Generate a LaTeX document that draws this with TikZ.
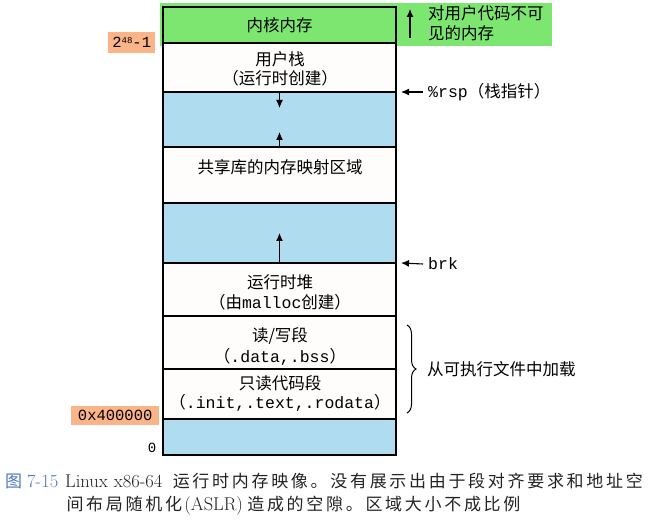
\documentclass[tikz,border=0pt]{standalone}
\usepackage{fontspec}
\newfontfamily\cjk{Noto Sans CJK SC}
\newfontfamily\code{Liberation Mono}
\usetikzlibrary{arrows.meta,decorations.pathreplacing}

\definecolor{kgreen}{RGB}{124,230,112}
\definecolor{gapblue}{RGB}{176,220,240}
\definecolor{addrorange}{RGB}{250,180,136}
\definecolor{boxwhite}{RGB}{254,253,251}
\definecolor{capblue}{RGB}{78,118,196}
\definecolor{captext}{RGB}{35,35,35}

% evenly spaced caption characters
\newcommand\capchars[1]{\capcharloop#1\relax}
\def\capcharloop#1{\ifx\relax#1\else\makebox[19.7pt]{#1}\expandafter\capcharloop\fi}
\newcommand\capcjk{\cjk\fontsize{17}{17}\selectfont}
\newcommand\caplatin{\fontsize{18.5}{18.5}\selectfont}

\begin{document}
\begin{tikzpicture}[x=1pt,y=-1pt,
  region/.style={draw=black, line width=1.6pt, fill=boxwhite, minimum width=233pt,
    anchor=north west, inner sep=0pt, outer sep=0pt},
  gap/.style={region, fill=gapblue},
  lbl/.style={font=\cjk\fontsize{16.5}{19}\selectfont, align=center, inner sep=0pt},
  addr/.style={fill=addrorange, font=\code\fontsize{15.5}{16}\selectfont, inner sep=0pt,
    anchor=north west},
  arr/.style={-{Latex[length=8pt,width=7pt]}, line width=1.1pt},
  caption/.style={anchor=west, inner sep=0pt, text=captext}]

\useasboundingbox (0,0) rectangle (656,521);
\fill[white] (0,0) rectangle (656,521);

% highlight behind the kernel area and its note
\fill[kgreen] (160,3) rectangle (552,46);

% address-space column, top to bottom
\node[region, fill=kgreen, minimum height=36pt] (kern) at (163,7) {};
\node[region, minimum height=49pt] (ustack) at (kern.south west) {};
\node[gap, minimum height=55pt] (gap1) at (ustack.south west) {};
\node[region, minimum height=56pt] (shlib) at (gap1.south west) {};
\node[gap, minimum height=60pt] (gap2) at (shlib.south west) {};
\node[region, minimum height=53pt] (heap) at (gap2.south west) {};
\node[region, minimum height=53pt] (rw) at (heap.south west) {};
\node[region, minimum height=50pt] (ro) at (rw.south west) {};
\node[gap, minimum height=36pt] (gap3) at (ro.south west) {};

% region labels
\node[lbl] (tkern) at (kern.center) {内核内存};
\node[lbl] (tustack) at (280,69) {用户栈\\（运行时创建）};
\node[lbl] (tshlib) at (280,167) {共享库的内存映射区域};
\node[lbl, font=\cjk\fontsize{16.5}{20}\selectfont] (theap) at (280,292)
  {运行时堆\\（由{\code malloc}创建）};
\node[lbl, font=\cjk\fontsize{16.5}{21}\selectfont] (trw) at (280,346)
  {读/写段\\（{\code .data,.bss}）};
\node[lbl] (tro) at (280,393.5)
  {只读代码段\\（{\code .init,.text,.rodata}）};

% growth arrows inside the free gaps
\draw[arr] (ustack.south) -- ++(0,16);
\draw[arr] (shlib.north) -- ++(0,-15);
\draw[arr] (heap.north) -- ++(0,-30);

% addresses on the left
\node[addr, minimum width=47pt, minimum height=21pt] (atop) at (108,32)
  {2\raisebox{4.5pt}{\fontsize{9}{9}\selectfont 48}-1};
\node[addr, minimum width=88pt, minimum height=19pt] (abase) at (71,406) {0x400000};
\node[font=\code\fontsize{14}{14}\selectfont, inner sep=0pt] (azero) at (152,448) {0};

% notes on the right
\coordinate (kup0) at (410,38);
\coordinate (kup1) at (410,9);
\draw[arr] (kup0) -- (kup1);
\node[lbl, anchor=west, align=left, font=\cjk\fontsize{16.5}{20}\selectfont] (kvis) at (428,23)
  {对用户代码不可\\见的内存};

\node[lbl, anchor=west] (rsp) at (428,92) {{\code\%rsp}（栈指针）};
\draw[arr] ([xshift=-5pt]rsp.west) -- ([xshift=5pt]ustack.south east);

\node[lbl, anchor=west] (brk) at (428,264) {\code brk};
\draw[arr] ([xshift=-5pt]brk.west) -- ([xshift=5pt]heap.north east);

\coordinate (btop) at (407,325);
\coordinate (bbot) at (407,413);
\draw[decorate, decoration={brace, amplitude=9pt}, line width=1pt] (btop) -- (bbot);
\node[lbl, anchor=west] (load) at (427,369) {从可执行文件中加载};

% figure caption
\node[caption, text=capblue] (fignum) at (5,481)
  {{\capcjk 图}\hspace{5pt}{\caplatin 7-15}};
\node[caption] (cap1) at (65,481)
  {{\caplatin Linux\hspace{6pt}x86-64}\hspace{9pt}{\capcjk\capchars{运行时内存映像。没有展示出由于段对齐要求和地址空}}};
\node[caption] (cap2) at (65,506)
  {{\capcjk\capchars{间布局随机化}}{\caplatin\hspace{1pt}(ASLR)\hspace{3pt}}{\capcjk\capchars{造成的空隙。区域大小不成比例}}};
\end{tikzpicture}
\end{document}
